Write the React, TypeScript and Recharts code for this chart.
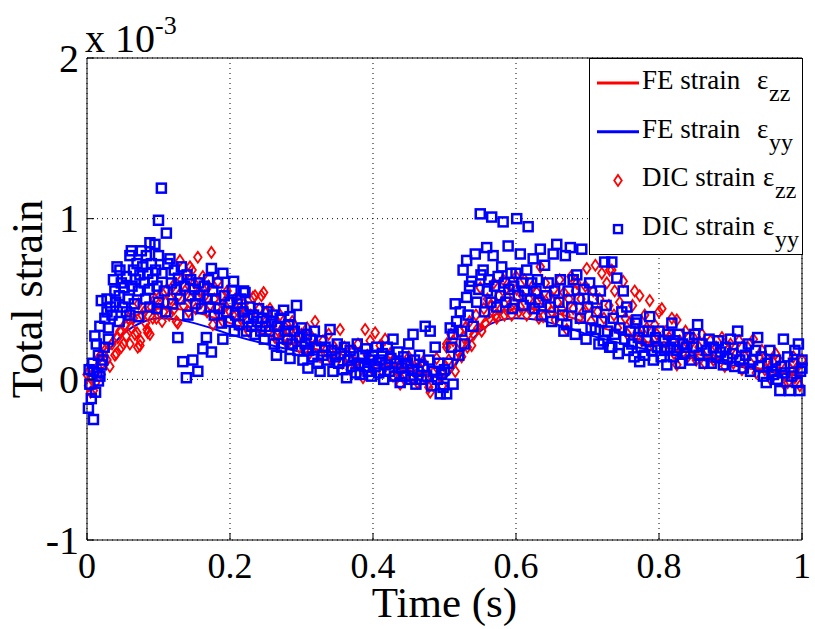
import React from 'react';
import {
  ScatterChart,
  Scatter,
  XAxis,
  YAxis,
  CartesianGrid,
  Legend,
  Label,
} from 'recharts';

const SERIF = 'Liberation Serif, Times New Roman, Times, DejaVu Serif, serif';
const RED = '#ff0000';
const BLUE = '#0000ff';

const xTicks = [0, 0.2, 0.4, 0.6, 0.8, 1];
const xTickLabels = ['0', '0.2', '0.4', '0.6', '0.8', '1'];
const yTicks = [-1, 0, 1, 2];
const yTickLabels = ['-1', '0', '1', '2'];

// FE model curves (strain x 1e-3)
const feTime = [0, 0.02, 0.05, 0.08, 0.1, 0.12, 0.15, 0.18, 0.2, 0.25, 0.3, 0.35, 0.4, 0.45, 0.5, 0.51, 0.53, 0.55, 0.58, 0.6, 0.62, 0.65, 0.68, 0.7, 0.75, 0.8, 0.85, 0.9, 0.95, 1.0];
const feZz = [0, 0.15, 0.34, 0.42, 0.44, 0.44, 0.42, 0.38, 0.35, 0.28, 0.21, 0.16, 0.11, 0.06, 0.02, 0.06, 0.23, 0.34, 0.42, 0.44, 0.44, 0.42, 0.38, 0.35, 0.28, 0.21, 0.16, 0.11, 0.06, 0.03];
const feYy = [0, 0.12, 0.28, 0.36, 0.38, 0.375, 0.35, 0.31, 0.28, 0.22, 0.17, 0.13, 0.09, 0.05, 0.01, 0.05, 0.2, 0.3, 0.37, 0.38, 0.375, 0.35, 0.31, 0.28, 0.22, 0.17, 0.13, 0.09, 0.05, 0.02];

// DIC measurements [time, strain x 1e-3]
const dicZz: [number, number][] = [
  [0.0, 0.03], [0.002, -0.04], [0.005, -0.08], [0.009, -0.07], [0.006, 0.02], [0.012, -0.02], [0.016, 0.13], [0.014, 0.05], [0.018, 0.14], [0.02, 0.03],
  [0.022, 0.1], [0.025, 0.18], [0.028, 0.12], [0.032, 0.08], [0.035, 0.22], [0.039, 0.15], [0.041, 0.16], [0.043, 0.26], [0.046, 0.3], [0.048, 0.2],
  [0.051, 0.22], [0.053, 0.34], [0.055, 0.27], [0.058, 0.38], [0.06, 0.22], [0.062, 0.32], [0.065, 0.38], [0.067, 0.28], [0.07, 0.29], [0.071, 0.2],
  [0.072, 0.47], [0.074, 0.21], [0.075, 0.24], [0.077, 0.4], [0.08, 0.42], [0.082, 0.35], [0.084, 0.31], [0.085, 0.29], [0.088, 0.28], [0.09, 0.45],
  [0.092, 0.38], [0.095, 0.5], [0.097, 0.38], [0.1, 0.44], [0.102, 0.52], [0.105, 0.36], [0.107, 0.42], [0.11, 0.48], [0.112, 0.56], [0.115, 0.4], [0.117, 0.5],
  [0.12, 0.58], [0.122, 0.44], [0.125, 0.36], [0.127, 0.35], [0.128, 0.52], [0.13, 0.74], [0.132, 0.62], [0.135, 0.46], [0.137, 0.55], [0.14, 0.66],
  [0.142, 0.42], [0.144, 0.7], [0.145, 0.5], [0.147, 0.68], [0.15, 0.6], [0.152, 0.44], [0.155, 0.76], [0.157, 0.55], [0.16, 0.48], [0.162, 0.64],
  [0.165, 0.52], [0.168, 0.42], [0.17, 0.58], [0.172, 0.46], [0.174, 0.79], [0.176, 0.34], [0.178, 0.5], [0.181, 0.45], [0.183, 0.61], [0.185, 0.4],
  [0.188, 0.52], [0.19, 0.36], [0.193, 0.46], [0.196, 0.55], [0.2, 0.42], [0.204, 0.4], [0.207, 0.5], [0.21, 0.34], [0.213, 0.44], [0.217, 0.38],
  [0.22, 0.47], [0.223, 0.42], [0.226, 0.3], [0.229, 0.4], [0.232, 0.51], [0.235, 0.52], [0.238, 0.34], [0.241, 0.44], [0.244, 0.52], [0.247, 0.54], [0.25, 0.36],
  [0.251, 0.42], [0.254, 0.3], [0.256, 0.44], [0.26, 0.36], [0.263, 0.26], [0.266, 0.34], [0.27, 0.4], [0.273, 0.28], [0.276, 0.33], [0.28, 0.22],
  [0.283, 0.3], [0.287, 0.36], [0.29, 0.24], [0.294, 0.3], [0.297, 0.2], [0.3, 0.28], [0.304, 0.22], [0.308, 0.32], [0.311, 0.16], [0.315, 0.26],
  [0.319, 0.36], [0.322, 0.2], [0.326, 0.14], [0.33, 0.24], [0.334, 0.18], [0.338, 0.28], [0.342, 0.12], [0.346, 0.2], [0.35, 0.16], [0.354, 0.31],
  [0.357, 0.1], [0.36, 0.2], [0.364, 0.14], [0.368, 0.06], [0.372, 0.18], [0.375, 0.1], [0.379, 0.22], [0.383, 0.08], [0.386, 0.01], [0.389, 0.31],
  [0.392, 0.15], [0.396, 0.24], [0.399, 0.06],
  [0.403, 0.29], [0.406, 0.12], [0.41, 0.21], [0.413, 0.05], [0.417, 0.25], [0.42, 0.1], [0.424, 0.16], [0.428, 0.02], [0.431, 0.12], [0.435, 0.06],
  [0.438, -0.03], [0.442, 0.1], [0.446, 0.03], [0.45, 0.14], [0.454, 0.0], [0.458, 0.08], [0.462, -0.02], [0.466, 0.06], [0.47, 0.11], [0.474, 0.0],
  [0.478, -0.05], [0.48, -0.08], [0.484, 0.04], [0.489, 0.13], [0.493, 0.02], [0.497, -0.04], [0.5, 0.08],
  [0.503, 0.2], [0.503, 0.22], [0.506, 0.12], [0.509, 0.28], [0.512, 0.24], [0.515, 0.05], [0.518, 0.18], [0.521, 0.3], [0.524, 0.14], [0.527, 0.26],
  [0.529, 0.32], [0.532, 0.2], [0.535, 0.36], [0.538, 0.21], [0.541, 0.28], [0.544, 0.4], [0.547, 0.32], [0.55, 0.57], [0.552, 0.3], [0.555, 0.44],
  [0.557, 0.35], [0.56, 0.5], [0.563, 0.38], [0.566, 0.46], [0.569, 0.6], [0.572, 0.4], [0.573, 0.38], [0.576, 0.52], [0.579, 0.44], [0.582, 0.62],
  [0.584, 0.4], [0.587, 0.43], [0.588, 0.51], [0.591, 0.58], [0.594, 0.4], [0.597, 0.48], [0.6, 0.64],
  [0.601, 0.56], [0.604, 0.42], [0.606, 0.45], [0.609, 0.52], [0.612, 0.62], [0.615, 0.4], [0.618, 0.5], [0.62, 0.43], [0.623, 0.58], [0.626, 0.46],
  [0.629, 0.54], [0.632, 0.38], [0.634, 0.7], [0.636, 0.5], [0.638, 0.39], [0.641, 0.6], [0.644, 0.46], [0.647, 0.52], [0.65, 0.42], [0.653, 0.56],
  [0.655, 0.37], [0.658, 0.48], [0.661, 0.62], [0.664, 0.44], [0.667, 0.54], [0.67, 0.4], [0.671, 0.31], [0.674, 0.5], [0.677, 0.64], [0.68, 0.44],
  [0.683, 0.55], [0.685, 0.6], [0.688, 0.38], [0.691, 0.5], [0.694, 0.42], [0.697, 0.58], [0.699, 0.69], [0.702, 0.46], [0.705, 0.36], [0.708, 0.55],
  [0.711, 0.71], [0.714, 0.42], [0.717, 0.5], [0.72, 0.66], [0.723, 0.38], [0.727, 0.6], [0.73, 0.46], [0.731, 0.68], [0.734, 0.68], [0.737, 0.4],
  [0.738, 0.55], [0.742, 0.32], [0.745, 0.48],
  [0.75, 0.61], [0.753, 0.38], [0.756, 0.28], [0.76, 0.36], [0.763, 0.46], [0.766, 0.55], [0.77, 0.3], [0.773, 0.52], [0.776, 0.24], [0.78, 0.4],
  [0.783, 0.32], [0.787, 0.49], [0.79, 0.22], [0.794, 0.34], [0.797, 0.28], [0.8, 0.42], [0.804, 0.44], [0.807, 0.2], [0.81, 0.3], [0.814, 0.26],
  [0.818, 0.38], [0.821, 0.16], [0.825, 0.37], [0.825, 0.09], [0.829, 0.24], [0.833, 0.2], [0.837, 0.3], [0.84, 0.14], [0.844, 0.22], [0.848, 0.26],
  [0.852, 0.12], [0.856, 0.2], [0.86, 0.28], [0.864, 0.1], [0.868, 0.18], [0.872, 0.24], [0.876, 0.12], [0.88, 0.2], [0.884, 0.16], [0.888, 0.26],
  [0.892, 0.08], [0.896, 0.18], [0.9, 0.22], [0.904, 0.1], [0.908, 0.16], [0.912, 0.24], [0.916, 0.06], [0.92, 0.14], [0.924, 0.2], [0.928, 0.1],
  [0.932, 0.25], [0.936, 0.04], [0.94, 0.14], [0.944, 0.18], [0.948, 0.06], [0.952, 0.12], [0.956, 0.0], [0.959, 0.11], [0.963, 0.16], [0.967, 0.04],
  [0.971, 0.1], [0.975, -0.03], [0.98, -0.02], [0.984, 0.06], [0.988, 0.14], [0.99, 0.01], [0.994, 0.08], [0.997, -0.04], [1.0, 0.12],
];

const dicYy: [number, number][] = [
  [0.002, -0.18], [0.009, -0.25], [0.006, -0.12], [0.004, -0.03], [0.012, -0.08], [0.016, -0.01], [0.009, 0.05], [0.02, 0.09], [0.008, 0.1], [0.014, 0.04],
  [0.003, 0.06], [0.018, 0.02], [0.022, 0.12], [0.013, 0.22], [0.011, 0.27], [0.018, 0.33], [0.03, 0.32], [0.025, 0.38], [0.02, 0.49], [0.028, 0.5],
  [0.024, 0.2], [0.03, 0.25], [0.016, 0.15],
  [0.033, 0.45], [0.035, 0.4], [0.037, 0.62], [0.039, 0.55], [0.042, 0.7], [0.046, 0.68], [0.04, 0.48], [0.045, 0.52], [0.048, 0.6], [0.05, 0.45],
  [0.052, 0.57], [0.055, 0.64], [0.058, 0.5], [0.06, 0.77], [0.062, 0.8], [0.063, 0.58], [0.065, 0.68], [0.066, 0.47], [0.068, 0.62], [0.07, 0.72],
  [0.072, 0.55], [0.074, 0.65], [0.076, 0.8], [0.078, 0.7], [0.08, 0.6], [0.082, 0.5], [0.083, 0.77], [0.085, 0.66], [0.087, 0.56], [0.088, 0.85],
  [0.09, 0.72], [0.092, 0.62], [0.095, 0.84], [0.096, 0.68], [0.098, 0.58], [0.1, 0.99], [0.1, 0.77], [0.1, 0.48], [0.104, 1.19], [0.105, 0.66],
  [0.108, 0.55], [0.111, 0.91], [0.113, 0.72], [0.116, 0.75], [0.118, 0.6], [0.12, 0.47],
  [0.06, 0.4], [0.072, 0.39], [0.088, 0.45], [0.098, 0.44], [0.11, 0.42], [0.055, 0.42], [0.045, 0.36], [0.028, 0.42],
  [0.122, 0.68], [0.125, 0.56], [0.127, 0.26], [0.128, 0.63], [0.13, 0.5], [0.132, 0.7], [0.134, 0.11], [0.136, 0.58], [0.139, 0.01], [0.14, 0.65],
  [0.141, 0.4], [0.143, 0.52], [0.145, 0.62], [0.148, 0.12], [0.15, 0.56], [0.152, 0.47], [0.155, 0.05], [0.156, 0.6], [0.158, 0.52], [0.16, 0.44],
  [0.162, 0.19], [0.164, 0.58], [0.167, 0.26], [0.168, 0.5], [0.17, 0.62], [0.172, 0.45], [0.174, 0.69], [0.174, 0.17], [0.176, 0.55], [0.178, 0.4],
  [0.18, 0.5], [0.183, 0.6], [0.185, 0.44], [0.188, 0.35], [0.19, 0.66], [0.19, 0.25], [0.192, 0.52], [0.195, 0.42], [0.198, 0.36], [0.2, 0.48],
  [0.203, 0.55], [0.205, 0.61], [0.206, 0.3], [0.208, 0.4], [0.21, 0.47], [0.213, 0.34], [0.215, 0.5], [0.218, 0.42], [0.219, 0.55], [0.221, 0.54],
  [0.223, 0.3], [0.225, 0.38], [0.228, 0.45], [0.23, 0.33], [0.233, 0.4], [0.235, 0.28], [0.238, 0.36], [0.24, 0.44], [0.243, 0.3], [0.245, 0.38],
  [0.248, 0.25], [0.25, 0.33],
  [0.252, 0.42], [0.255, 0.3], [0.258, 0.36], [0.26, 0.4], [0.262, 0.22], [0.265, 0.15], [0.266, 0.33], [0.268, 0.28], [0.27, 0.38], [0.272, 0.2],
  [0.275, 0.43], [0.277, 0.3], [0.28, 0.25], [0.282, 0.34], [0.284, 0.13], [0.284, 0.39], [0.287, 0.22], [0.29, 0.3], [0.293, 0.46], [0.295, 0.18],
  [0.297, 0.26], [0.3, 0.32], [0.302, 0.12], [0.305, 0.22], [0.307, 0.28], [0.309, 0.07], [0.31, 0.18], [0.313, 0.25], [0.316, 0.14], [0.318, 0.3],
  [0.32, 0.2], [0.323, 0.1], [0.326, 0.05], [0.328, 0.24], [0.33, 0.15], [0.333, 0.2], [0.336, 0.12], [0.34, 0.31], [0.342, 0.18], [0.344, 0.05],
  [0.347, 0.14], [0.35, 0.22], [0.352, 0.1], [0.355, 0.16], [0.358, 0.06], [0.36, 0.2], [0.363, 0.01], [0.365, 0.12], [0.368, 0.18], [0.37, 0.08],
  [0.373, 0.14], [0.376, 0.04], [0.378, 0.22], [0.38, 0.1], [0.382, 0.03], [0.385, 0.15], [0.388, 0.08], [0.39, 0.19], [0.393, 0.05], [0.395, 0.12], [0.398, 0.02],
  [0.4, 0.15], [0.403, 0.08], [0.405, 0.2], [0.408, 0.04], [0.41, 0.12], [0.413, 0.16], [0.415, 0.0], [0.418, 0.09], [0.42, 0.2], [0.423, 0.05],
  [0.425, 0.13], [0.428, 0.25], [0.43, 0.02], [0.433, 0.1], [0.435, 0.17], [0.438, -0.02], [0.44, 0.07], [0.443, 0.14], [0.445, 0.02], [0.448, 0.1],
  [0.45, 0.22], [0.453, 0.0], [0.455, 0.06], [0.456, 0.28], [0.458, 0.12], [0.46, -0.03], [0.463, 0.05], [0.465, 0.15], [0.468, 0.0], [0.47, 0.08],
  [0.473, 0.33], [0.475, 0.02], [0.478, 0.12], [0.48, 0.3], [0.482, -0.04], [0.485, 0.05], [0.487, 0.2], [0.49, 0.0], [0.492, 0.1], [0.494, -0.09],
  [0.496, 0.03], [0.498, -0.05], [0.5, 0.06],
  [0.503, -0.09], [0.505, 0.1], [0.508, 0.32], [0.51, 0.2], [0.512, -0.03], [0.512, 0.28], [0.515, 0.47], [0.517, 0.36], [0.52, 0.15], [0.522, 0.42],
  [0.524, 0.3], [0.526, 0.68], [0.528, 0.22], [0.531, 0.51], [0.531, 0.74], [0.533, 0.4], [0.535, 0.58], [0.538, 0.61], [0.54, 0.33], [0.543, 0.78],
  [0.545, 0.48], [0.548, 0.56], [0.55, 1.03], [0.551, 0.65], [0.554, 0.68], [0.556, 0.42], [0.559, 0.82],
  [0.56, 0.55], [0.562, 0.62], [0.565, 0.48], [0.566, 1.01], [0.568, 0.77], [0.57, 0.58], [0.573, 0.45], [0.575, 0.64], [0.578, 0.52], [0.58, 0.7],
  [0.582, 0.98], [0.584, 0.6], [0.586, 0.48], [0.589, 0.83], [0.59, 0.56], [0.593, 0.66], [0.595, 0.44], [0.597, 0.58], [0.6, 0.66], [0.601, 1.0],
  [0.603, 0.52], [0.606, 0.78], [0.608, 0.6], [0.61, 0.46], [0.612, 0.55], [0.615, 0.68], [0.617, 0.95], [0.62, 0.5], [0.622, 0.6], [0.624, 0.75],
  [0.626, 0.44], [0.628, 0.55], [0.63, 0.62], [0.632, 0.48], [0.634, 0.81], [0.636, 0.4], [0.64, 0.71], [0.642, 0.52], [0.645, 0.6], [0.648, 0.45],
  [0.65, 0.36], [0.652, 0.78], [0.654, 0.55], [0.657, 0.84], [0.66, 0.48], [0.662, 0.62], [0.665, 0.4], [0.667, 0.3], [0.669, 0.77], [0.671, 0.34],
  [0.673, 0.55], [0.676, 0.82], [0.678, 0.45], [0.68, 0.62], [0.683, 0.28], [0.685, 0.65], [0.688, 0.5], [0.69, 0.38], [0.692, 0.81], [0.695, 0.56],
  [0.698, 0.25], [0.7, 0.45],
  [0.703, 0.6], [0.705, 0.32], [0.708, 0.5], [0.711, 0.31], [0.713, 0.42], [0.716, 0.22], [0.718, 0.55], [0.72, 0.36], [0.722, 0.24], [0.724, 0.73],
  [0.726, 0.46], [0.728, 0.3], [0.731, 0.2], [0.734, 0.73], [0.734, 0.2], [0.736, 0.38], [0.738, 0.28], [0.741, 0.63], [0.743, 0.16], [0.745, 0.32],
  [0.748, 0.42], [0.75, 0.55], [0.752, 0.25], [0.755, 0.45], [0.757, 0.18], [0.76, 0.3], [0.762, 0.22], [0.765, 0.14], [0.767, 0.35], [0.769, 0.37],
  [0.771, 0.26], [0.773, 0.11], [0.775, 0.2], [0.778, 0.3], [0.78, 0.15], [0.783, 0.24], [0.785, 0.3], [0.787, 0.39], [0.79, 0.18], [0.792, 0.12],
  [0.795, 0.26], [0.798, 0.2],
  [0.8, 0.3], [0.803, 0.14], [0.806, 0.24], [0.808, 0.18], [0.811, 0.09], [0.813, 0.28], [0.816, 0.2], [0.818, 0.35], [0.82, 0.14], [0.822, 0.24],
  [0.825, 0.18], [0.828, 0.28], [0.83, 0.1], [0.833, 0.22], [0.836, 0.16], [0.839, 0.2], [0.842, 0.26], [0.845, 0.12], [0.848, 0.2], [0.85, 0.28],
  [0.854, 0.34], [0.856, 0.15], [0.86, 0.22], [0.863, 0.1], [0.866, 0.18], [0.87, 0.25], [0.873, 0.1], [0.876, 0.2], [0.88, 0.14], [0.883, 0.24],
  [0.886, 0.17], [0.89, 0.09], [0.893, 0.2], [0.896, 0.13], [0.9, 0.25], [0.903, 0.16], [0.906, 0.08], [0.91, 0.3], [0.913, 0.12], [0.916, 0.2],
  [0.918, 0.07], [0.921, 0.15], [0.925, 0.22], [0.928, 0.05], [0.931, 0.12], [0.935, 0.18], [0.938, 0.26], [0.94, 0.08], [0.943, 0.14], [0.946, 0.02],
  [0.95, -0.02], [0.952, 0.1], [0.955, 0.18], [0.958, 0.05], [0.96, 0.03], [0.963, 0.12], [0.966, 0.0], [0.969, -0.07], [0.971, 0.08], [0.974, 0.25],
  [0.976, 0.04], [0.98, 0.14], [0.983, -0.07], [0.985, 0.02], [0.988, 0.1], [0.99, 0.18], [0.993, -0.02], [0.995, 0.22], [0.997, -0.07], [0.998, 0.05],
  [1.0, 0.07], [1.0, 0.12],
];

const legendLabels = ['FE strain', 'FE strain', 'DIC strain', 'DIC strain'];
const legendSubs = ['zz', 'yy', 'zz', 'yy'];
const legendKinds = ['line', 'line', 'diamond', 'square'];
const legendColors = [RED, BLUE, RED, BLUE];

const feZzData = feTime.map((t, i) => ({ t, v: feZz[i] }));
const feYyData = feTime.map((t, i) => ({ t, v: feYy[i] }));
const dicZzData = dicZz.map(([t, v]) => ({ t, v }));
const dicYyData = dicYy.map(([t, v]) => ({ t, v }));

const diamondPath = (cx: number, cy: number) =>
  `${cx},${cy - 5.5} ${cx + 3.8},${cy} ${cx},${cy + 5.5} ${cx - 3.8},${cy}`;

const Diamond = (props: any) => {
  const { cx, cy } = props;
  if (cx == null || cy == null) return <g />;
  return <polygon points={diamondPath(cx, cy)} fill="none" stroke={RED} strokeWidth={1.8} />;
};

const Square = (props: any) => {
  const { cx, cy } = props;
  if (cx == null || cy == null) return <g />;
  return <rect x={cx - 4.5} y={cy - 4.5} width={9} height={9} fill="none" stroke={BLUE} strokeWidth={2.5} />;
};

const NoMark = () => <g />;

const textStyle = { fontFamily: SERIF };

const BottomTick = (props: any) => {
  const { x, y, index } = props;
  return (
    <g>
      <line x1={x} x2={x} y1={y} y2={y - 7} stroke="#000" />
      <text x={x} y={y + 38} textAnchor="middle" style={textStyle} fontSize={36} fill="#000">
        {xTickLabels[index]}
      </text>
    </g>
  );
};

const TopTick = (props: any) => {
  const { x, y } = props;
  return <line x1={x} x2={x} y1={y} y2={y + 7} stroke="#000" />;
};

const LeftTick = (props: any) => {
  const { x, y, index } = props;
  return (
    <g>
      <line x1={x} x2={x + 7} y1={y} y2={y} stroke="#000" />
      <text x={x - 8} y={y + 13.5} textAnchor="end" style={textStyle} fontSize={40} fill="#000">
        {yTickLabels[index]}
      </text>
    </g>
  );
};

const RightTick = (props: any) => {
  const { x, y } = props;
  return <line x1={x} x2={x - 7} y1={y} y2={y} stroke="#000" />;
};

const renderLegend = () => (
  <svg width={215} height={198} style={{ display: 'block' }}>
    <rect x={0.5} y={0.5} width={213} height={196} fill="#fff" stroke="#000" />
    {legendLabels.map((label, i) => {
      const cy = 25 + i * 48.7;
      const base = cy + 6;
      const epsX = legendKinds[i] === 'line' ? 168 : 174;
      const color = legendColors[i];
      let marker;
      if (legendKinds[i] === 'line') {
        marker = <line x1={8} x2={50} y1={cy} y2={cy} stroke={color} strokeWidth={3} />;
      } else if (legendKinds[i] === 'diamond') {
        marker = <polygon points={diamondPath(29, cy)} fill="none" stroke={color} strokeWidth={1.8} />;
      } else {
        marker = <rect x={25} y={cy - 4} width={8} height={8} fill="none" stroke={color} strokeWidth={2.4} />;
      }
      return (
        <g key={i}>
          {marker}
          <text x={53} y={base} style={textStyle} fontSize={27} fill="#000">{label}</text>
          <text x={epsX} y={base} style={textStyle} fontSize={27} fill="#000">ε</text>
          <text x={epsX + 12} y={base + 12} style={textStyle} fontSize={24} fill="#000">{legendSubs[i]}</text>
        </g>
      );
    })}
  </svg>
);

const XTitle = (props: any) => {
  const vb = props.viewBox;
  return (
    <text x={vb.x + vb.width / 2} y={vb.y + 77} textAnchor="middle" style={textStyle} fontSize={43} fill="#000">
      Time (s)
    </text>
  );
};

const YTitle = (props: any) => {
  const vb = props.viewBox;
  const cx = 42;
  const cy = vb.y + vb.height / 2;
  return (
    <text x={cx} y={cy} transform={`rotate(-90, ${cx}, ${cy})`} textAnchor="middle" style={textStyle} fontSize={44} fill="#000">
      Total strain
    </text>
  );
};

const Multiplier = (props: any) => {
  const vb = props.viewBox;
  const x = vb.x + vb.width - 2;
  const y = vb.y - 6;
  return (
    <text x={x} y={y} style={textStyle} fontSize={40} fill="#000">
      x 10<tspan fontSize={26} dy={-18}>-3</tspan>
    </text>
  );
};

const App: React.FC = () => {
  return (
    <div style={{ position: 'absolute', left: 0, top: 0, width: 815, height: 629, background: '#fff' }}>
      <ScatterChart width={815} height={629} margin={{ top: 0, right: 0, bottom: 0, left: 0 }}>
        <CartesianGrid stroke="#000" strokeDasharray="1 4" />
        <XAxis
          dataKey="t"
          type="number"
          domain={[0, 1]}
          ticks={xTicks}
          interval={0}
          height={89}
          tickSize={0}
          tickMargin={0}
          tickLine={false}
          axisLine={{ stroke: '#000' }}
          tick={<BottomTick />}
        >
          <Label content={<XTitle />} />
        </XAxis>
        <XAxis
          xAxisId="top"
          orientation="top"
          type="number"
          domain={[0, 1]}
          ticks={xTicks}
          interval={0}
          height={58}
          tickSize={0}
          tickMargin={0}
          tickLine={false}
          axisLine={{ stroke: '#000' }}
          tick={<TopTick />}
        />
        <YAxis
          dataKey="v"
          type="number"
          domain={[-1, 2]}
          ticks={yTicks}
          interval={0}
          width={87}
          tickSize={0}
          tickMargin={0}
          tickLine={false}
          axisLine={{ stroke: '#000' }}
          tick={<LeftTick />}
        >
          <Label content={<YTitle />} />
          <Label content={<Multiplier />} />
        </YAxis>
        <YAxis
          yAxisId="right"
          orientation="right"
          type="number"
          domain={[-1, 2]}
          ticks={yTicks}
          interval={0}
          width={13}
          tickSize={0}
          tickMargin={0}
          tickLine={false}
          axisLine={{ stroke: '#000' }}
          tick={<RightTick />}
        />
        <Scatter
          name="FE strain zz"
          data={feZzData}
          line={{ stroke: RED, strokeWidth: 2 }}
          lineJointType="monotoneX"
          shape={<NoMark />}
          isAnimationActive={false}
        />
        <Scatter
          name="FE strain yy"
          data={feYyData}
          line={{ stroke: BLUE, strokeWidth: 2 }}
          lineJointType="monotoneX"
          shape={<NoMark />}
          isAnimationActive={false}
        />
        <Scatter name="DIC strain zz" data={dicZzData} shape={<Diamond />} isAnimationActive={false} />
        <Scatter name="DIC strain yy" data={dicYyData} shape={<Square />} isAnimationActive={false} />
        <Legend
          layout="horizontal"
          verticalAlign="middle"
          align="center"
          wrapperStyle={{ position: 'absolute', left: 589, top: 58, width: 215, height: 198 }}
          content={renderLegend}
        />
      </ScatterChart>
    </div>
  );
};

export default App;
